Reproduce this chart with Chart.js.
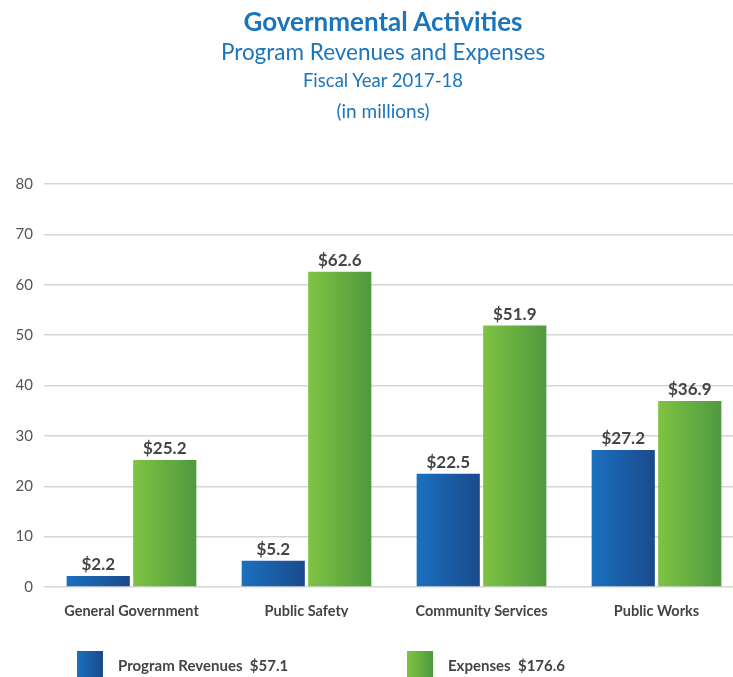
<!DOCTYPE html>
<html>
<head>
<meta charset="utf-8">
<script src="https://cdn.jsdelivr.net/npm/chart.js@4/dist/chart.umd.min.js"></script>
<style>
  html, body { margin: 0; padding: 0; background: #fff; overflow: hidden; }
  #wrap { position: relative; width: 733px; height: 677px; overflow: hidden; font-family: Lato, sans-serif; }
  #chart { position: absolute; left: 0; top: 0; }
  .title { position: absolute; left: 0; width: 766px; text-align: center; color: #1b75bc; white-space: nowrap; }
  #t1 { top: 5px; font-size: 26px; font-weight: bold; }
  #t2 { top: 38px; font-size: 22.5px; }
  #t3 { top: 69px; font-size: 18.5px; }
  #t4 { top: 99px; font-size: 19px; }
  #legend { position: absolute; top: 651px; left: 0; width: 733px; }
  .item { position: absolute; display: flex; align-items: center; color: #444; font-size: 15px; font-weight: bold; }
  .swatch { width: 26px; height: 28px; margin-right: 15px; }
</style>
</head>
<body>
<div id="wrap">
  <canvas id="chart" width="760" height="677"></canvas>
  <div class="title" id="t1">Governmental Activities</div>
  <div class="title" id="t2">Program Revenues and Expenses</div>
  <div class="title" id="t3">Fiscal Year 2017-18</div>
  <div class="title" id="t4">(in millions)</div>
  <div id="legend"></div>
</div>
<script>
const categories = ['General Government', 'Public Safety', 'Community Services', 'Public Works'];
const revenues = [2.2, 5.2, 22.5, 27.2];
const expenses = [25.2, 62.6, 51.9, 36.9];
const yTicks = [0, 10, 20, 30, 40, 50, 60, 70, 80];

const seriesColors = [
    { name: 'Program Revenues', light: '#1a70bf', dark: '#1b4a8c', left: 77 },
    { name: 'Expenses', light: '#7fc343', dark: '#4f993f', left: 407 }
];

const sum = arr => arr.reduce((a, v) => a + v, 0);
const money = v => '$' + v.toFixed(1);

// horizontal gradient on every bar, built from the bar's own position
const barGradient = {
    id: 'barGradient',
    beforeDatasetsDraw(chart) {
        const ctx = chart.ctx;
        chart.data.datasets.forEach((ds, di) => {
            const c = seriesColors[di];
            chart.getDatasetMeta(di).data.forEach(bar => {
                const x0 = bar.x - bar.width / 2;
                const g = ctx.createLinearGradient(x0, 0, x0 + bar.width, 0);
                g.addColorStop(0, c.light);
                g.addColorStop(1, c.dark);
                bar.options = Object.assign({}, bar.options, { backgroundColor: g });
            });
        });
    }
};

// dollar values above the bars
const valueLabels = {
    id: 'valueLabels',
    afterDatasetsDraw(chart) {
        const ctx = chart.ctx;
        ctx.save();
        ctx.font = 'bold 17px Lato';
        ctx.fillStyle = '#444';
        ctx.textAlign = 'center';
        ctx.textBaseline = 'alphabetic';
        chart.data.datasets.forEach((ds, di) => {
            chart.getDatasetMeta(di).data.forEach((bar, i) => {
                ctx.fillText(money(ds.data[i]), bar.x, bar.y - 6);
            });
        });
        ctx.restore();
    }
};

new Chart(document.getElementById('chart'), {
    type: 'bar',
    data: {
        labels: categories,
        datasets: [
            { label: 'Program Revenues', data: revenues, backgroundColor: seriesColors[0].dark },
            { label: 'Expenses', data: expenses, backgroundColor: seriesColors[1].dark }
        ]
    },
    options: {
        responsive: false,
        animation: false,
        devicePixelRatio: 1,
        categoryPercentage: 0.76,
        barPercentage: 0.95,
        layout: { padding: { top: 184, right: 16, bottom: 60, left: 0 } },
        plugins: {
            legend: { display: false },
            tooltip: { enabled: false }
        },
        scales: {
            x: {
                grid: { display: false },
                border: { display: false },
                ticks: { color: '#444', font: { family: 'Lato', size: 14.5, weight: 'bold' }, padding: 8 },
                afterFit: s => { s.height = 30; }
            },
            y: {
                min: 0,
                max: 80,
                afterBuildTicks: s => { s.ticks = yTicks.map(v => ({ value: v })); },
                grid: { color: '#d6d6d6', lineWidth: 1.5, drawTicks: false },
                border: { display: false },
                ticks: { color: '#555', font: { family: 'Lato', size: 15 }, padding: 11 },
                afterFit: s => { s.width = 44; }
            }
        }
    },
    plugins: [barGradient, valueLabels]
});

// legend with series totals
const legend = document.getElementById('legend');
[revenues, expenses].forEach((vals, i) => {
    const c = seriesColors[i];
    const item = document.createElement('div');
    item.className = 'item';
    item.style.left = c.left + 'px';
    item.innerHTML = '<div class="swatch" style="background:linear-gradient(90deg,' + c.light + ',' + c.dark + ')"></div>' +
        '<span>' + c.name + '&nbsp; ' + money(sum(vals)) + '</span>';
    legend.appendChild(item);
});
</script>
</body>
</html>
